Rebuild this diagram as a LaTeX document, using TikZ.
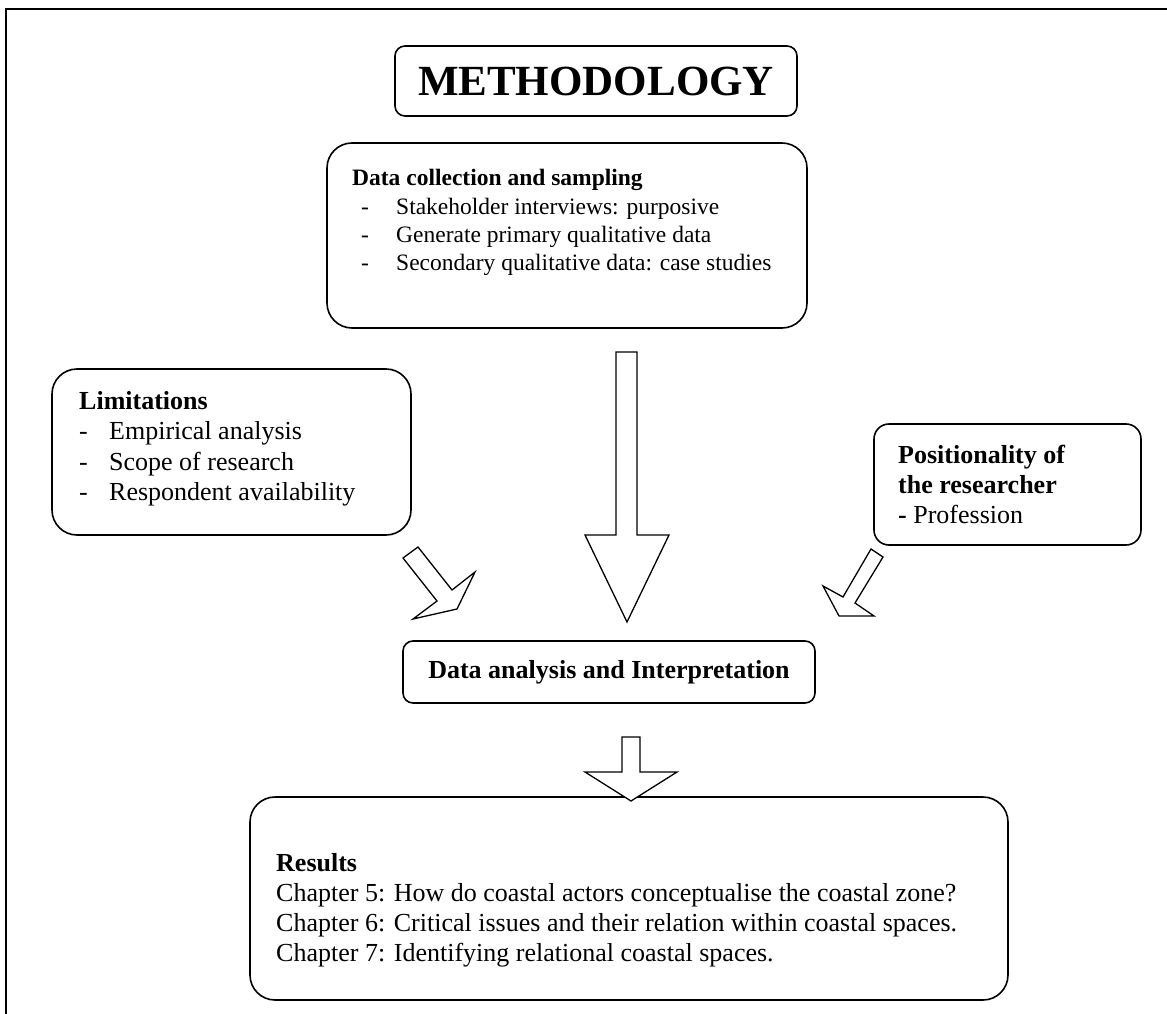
\documentclass[tikz,border=0pt]{standalone}
\usepackage{fontspec}
\setmainfont{Liberation Serif}
\begin{document}
\begin{tikzpicture}[x=1pt,y=-1pt,
  box/.style={draw, line width=1.6pt, inner sep=0pt},
  body/.style={font=\fontsize{26}{30}\selectfont, inner sep=0pt, anchor=base west},
  head/.style={body, font=\fontsize{26}{30}\selectfont\bfseries},
  small/.style={body, font=\fontsize{23.5}{28}\selectfont},
  smallhead/.style={body, font=\fontsize{23.5}{28}\selectfont\bfseries},
  blockarrow/.style={draw, line width=1.3pt, fill=white, line join=miter}]
\useasboundingbox (0,0) rectangle (1167,1014);

% outer frame
\draw[line width=2pt] (6,1014) -- (6,9) -- (1167,9);

% title
\node[box, rounded corners=10pt, minimum width=402pt, minimum height=70pt,
      font=\fontsize{43}{50}\selectfont\bfseries] (method) at (596,81) {METHODOLOGY};

% data collection and sampling
\node[box, rounded corners=25pt, minimum width=480pt, minimum height=185pt] (dc) at (567,235.5) {};
\node[smallhead] (dct) at (352,185) {Data collection and sampling};
\node[small] (dcd1) at (361,214) {-};
\node[small] (dci1) at (396,214) {Stakeholder interviews: purposive};
\node[small] (dcd2) at (361,242) {-};
\node[small] (dci2) at (396,242) {Generate primary qualitative data};
\node[small] (dcd3) at (361,270) {-};
\node[small] (dci3) at (396,270) {Secondary qualitative data: case studies};

% limitations
\node[box, rounded corners=25pt, minimum width=359pt, minimum height=166pt] (lim) at (231.5,452) {};
\node[head] (limt) at (79,409) {Limitations};
\node[body] (limd1) at (79,439) {-};
\node[body] (limi1) at (109,439) {Empirical analysis};
\node[body] (limd2) at (79,470) {-};
\node[body] (limi2) at (109,470) {Scope of research};
\node[body] (limd3) at (79,500) {-};
\node[body] (limi3) at (109,500) {Respondent availability};

% positionality of the researcher
\node[box, rounded corners=15pt, minimum width=267pt, minimum height=121pt] (pos) at (1007.5,484.5) {};
\node[head] (post1) at (898,463) {Positionality of};
\node[head] (post2) at (898,493) {the researcher};
\node[body] (posi1) at (898,523) {\textbf{-} Profession};

% analysis
\node[box, rounded corners=10pt, minimum width=412pt, minimum height=62pt,
      font=\fontsize{26}{30}\selectfont\bfseries] (ana) at (609,672) {Data analysis and Interpretation};

% results
\node[box, rounded corners=25pt, minimum width=758pt, minimum height=203pt] (res) at (629,898.5) {};
\node[head] (rest) at (276,871) {Results};
\node[body] (res5) at (276,901) {Chapter 5: How do coastal actors conceptualise the coastal zone?};
\node[body] (res6) at (276,931) {Chapter 6: Critical issues and their relation within coastal spaces.};
\node[body] (res7) at (276,961) {Chapter 7: Identifying relational coastal spaces.};

% block arrows
\draw[blockarrow] (616,352) -- (637,352) -- (637,535) -- (669,535) -- (627,622)
      -- (585,535) -- (616,535) -- cycle;
\draw[blockarrow] (403,558) -- (418,547) -- (452,590) -- (475,572) -- (457,609)
      -- (413,619) -- (437,601) -- cycle;
\draw[blockarrow] (871,549) -- (883,557) -- (855,603) -- (874,616) -- (839,616)
      -- (823,586) -- (843,597) -- cycle;
\draw[blockarrow] (622,737) -- (640,737) -- (640,772) -- (677,772) -- (631,801)
      -- (585,772) -- (622,772) -- cycle;
\end{tikzpicture}
\end{document}
